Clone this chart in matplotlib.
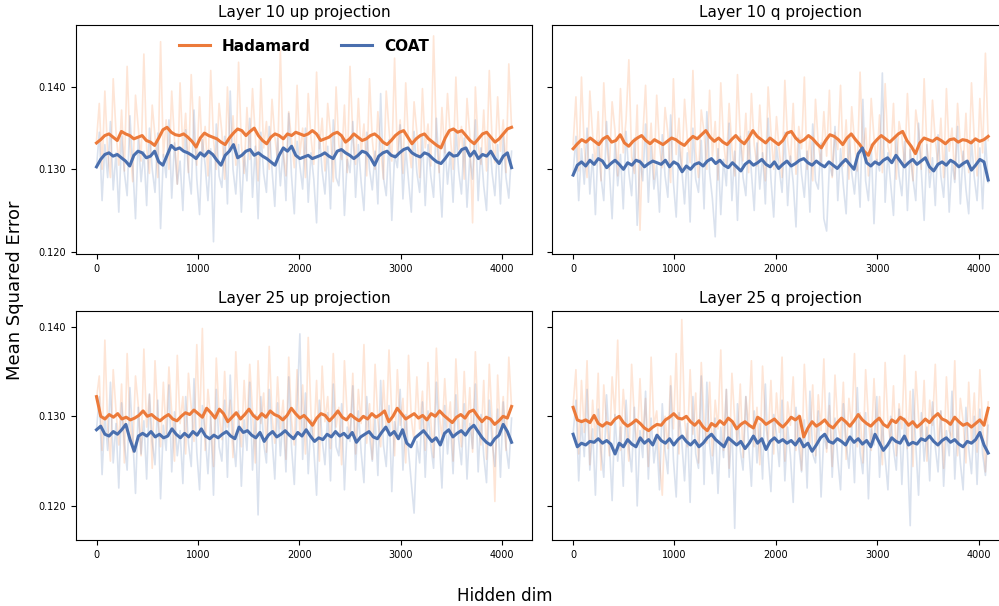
import numpy as np
import matplotlib
matplotlib.use('Agg')
import matplotlib.pyplot as plt
from matplotlib.ticker import MultipleLocator, FormatStrFormatter

# colours
had_color = '#ec7a3a'
coat_color = '#4a6fae'

n_dims = 4096
titles = ['Layer 10 up projection', 'Layer 10 q projection',
          'Layer 25 up projection', 'Layer 25 q projection']

# all values below are MSE x 1e-4
# ---- Layer 10 up ----
had_raw_10up = [
    1335,1380,1300,1395,1320,1290,1410,1345,1305,1372,1298,1425,1330,1285,1390,1350,1310,1440,1325,1295,
    1378,1340,1290,1455,1315,1360,1300,1395,1335,1282,1405,1322,1368,1296,1415,1340,1305,1388,1318,1352,
    1292,1420,1336,1300,1380,1345,1288,1400,1322,1365,1305,1430,1330,1295,1375,1312,1398,1340,1286,1410,
    1326,1358,1300,1385,1340,1310,1445,1320,1292,1370,1335,1302,1402,1318,1350,1290,1392,1338,1306,1418,
    1325,1362,1298,1380,1344,1285,1400,1330,1312,1378,1296,1425,1342,1306,1386,1320,1355,1292,1410,1336,
    1300,1370,1325,1288,1395,1348,1310,1435,1318,1360,1295,1405,1332,1302,1382,1345,1290,1398,1326,1355,
    1304,1462,1338,1296,1375,1320,1392,1340,1300,1412,1324,1352,1288,1386,1342,1235,1400,1330,1306,1372,
    1298,1420,1336,1308,1388,1322,1360,1296,1428,1350]
coat_raw_10up = [
    1302,1345,1262,1330,1290,1358,1275,1320,1248,1340,1296,1268,1365,1305,1240,1338,1285,1322,1256,1350,
    1300,1272,1344,1228,1318,1290,1360,1265,1332,1282,1310,1250,1348,1298,1270,1372,1288,1245,1336,1305,
    1262,1325,1212,1355,1292,1278,1340,1258,1395,1300,1270,1330,1248,1318,1286,1362,1266,1328,1240,1345,
    1295,1272,1352,1300,1255,1338,1280,1325,1262,1368,1292,1246,1334,1304,1276,1350,1260,1320,1288,1235,
    1342,1298,1270,1328,1252,1360,1290,1280,1338,1244,1312,1296,1358,1266,1330,1284,1250,1345,1300,1275,
    1322,1258,1392,1290,1268,1336,1238,1318,1302,1354,1264,1326,1286,1248,1346,1296,1272,1340,1256,1330,
    1292,1266,1362,1300,1242,1335,1282,1320,1260,1348,1298,1270,1338,1254,1315,1288,1360,1262,1326,1280,
    1250,1342,1296,1268,1330,1258,1340,1290,1265,1322]
had_smooth_10up = [
    1332,1336,1341,1343,1339,1335,1346,1343,1341,1337,1339,1341,1335,1333,1329,1338,1348,1351,1345,1342,
    1341,1343,1339,1334,1327,1338,1344,1341,1339,1337,1333,1330,1338,1344,1349,1347,1341,1346,1350,1341,
    1335,1331,1339,1343,1341,1337,1343,1341,1345,1343,1341,1343,1347,1343,1335,1337,1339,1343,1345,1341,
    1333,1337,1343,1339,1335,1337,1341,1343,1339,1333,1330,1335,1341,1345,1347,1339,1331,1337,1341,1343,
    1337,1333,1329,1326,1338,1347,1349,1345,1347,1341,1335,1331,1337,1343,1345,1339,1333,1337,1343,1349,1351]
coat_smooth_10up = [
    1303,1312,1318,1320,1316,1318,1314,1310,1304,1317,1322,1320,1314,1316,1322,1309,1305,1317,1329,1324,
    1326,1322,1320,1317,1313,1320,1316,1322,1318,1311,1305,1317,1322,1330,1314,1317,1322,1324,1317,1320,
    1316,1313,1309,1305,1317,1326,1322,1328,1317,1313,1315,1317,1313,1315,1317,1320,1316,1313,1322,1324,
    1320,1317,1313,1317,1322,1320,1314,1305,1316,1320,1322,1317,1315,1320,1324,1326,1320,1317,1315,1320,
    1318,1313,1309,1307,1313,1320,1316,1317,1324,1326,1316,1322,1313,1318,1316,1322,1313,1307,1316,1320,1302]

# ---- Layer 10 q ----
had_raw_10q = [
    1330,1388,1298,1412,1326,1290,1395,1342,1305,1370,1286,1405,1332,1300,1382,1348,1292,1398,1320,1360,
    1433,1315,1295,1378,1226,1340,1402,1306,1356,1288,1390,1328,1302,1375,1344,1284,1410,1318,1362,1298,
    1385,1336,1308,1420,1322,1290,1372,1345,1300,1396,1316,1358,1287,1405,1334,1302,1380,1325,1292,1415,
    1340,1310,1368,1296,1392,1330,1304,1378,1318,1286,1400,1346,1300,1364,1322,1290,1408,1335,1306,1380,
    1294,1352,1325,1412,1300,1340,1286,1385,1330,1308,1370,1316,1396,1290,1345,1324,1402,1304,1360,1288,
    1376,1334,1298,1418,1320,1350,1292,1386,1338,1306,1366,1296,1404,1328,1312,1380,1288,1358,1340,1302,
    1392,1318,1286,1372,1346,1300,1410,1326,1296,1384,1335,1306,1362,1290,1398,1322,1350,1288,1380,1330,
    1304,1368,1296,1405,1336,1292,1386,1320,1441,1335]
coat_raw_10q = [
    1295,1340,1262,1325,1282,1350,1270,1318,1245,1335,1290,1262,1358,1300,1240,1332,1280,1318,1252,1346,
    1296,1268,1338,1232,1312,1286,1355,1260,1328,1276,1305,1248,1342,1292,1266,1366,1284,1242,1330,1300,
    1258,1320,1236,1350,1288,1272,1335,1252,1370,1296,1264,1218,1325,1245,1312,1280,1356,1262,1322,1238,
    1340,1290,1268,1346,1296,1250,1332,1276,1320,1258,1362,1288,1242,1328,1300,1272,1345,1256,1316,1284,
    1230,1338,1294,1266,1322,1248,1355,1286,1276,1332,1240,1225,1306,1292,1352,1262,1325,1280,1246,1340,
    1296,1270,1316,1254,1385,1286,1262,1330,1234,1312,1298,1417,1260,1320,1282,1244,1340,1292,1268,1334,
    1250,1324,1288,1262,1356,1296,1238,1330,1278,1314,1256,1342,1292,1266,1332,1248,1310,1284,1352,1258,
    1322,1276,1246,1336,1290,1262,1326,1252,1338,1284]
had_smooth_10q = [
    1325,1331,1336,1333,1338,1334,1330,1337,1340,1333,1335,1342,1332,1328,1334,1338,1341,1335,1331,1336,
    1333,1330,1334,1338,1336,1332,1329,1335,1340,1337,1342,1347,1339,1334,1338,1333,1330,1336,1341,1335,
    1331,1338,1347,1340,1336,1332,1338,1334,1330,1335,1344,1346,1338,1333,1336,1341,1337,1331,1326,1335,
    1342,1340,1336,1330,1338,1343,1336,1330,1322,1317,1330,1336,1341,1337,1333,1338,1343,1346,1335,1328,
    1319,1332,1338,1336,1334,1338,1335,1331,1336,1337,1333,1336,1335,1332,1337,1334,1336,1340]
coat_smooth_10q = [
    1293,1305,1309,1304,1311,1306,1313,1310,1302,1307,1311,1306,1300,1308,1305,1311,1309,1303,1307,1310,
    1308,1306,1311,1303,1309,1306,1297,1304,1300,1306,1308,1304,1310,1313,1307,1311,1305,1302,1308,1303,
    1298,1306,1310,1305,1308,1312,1306,1303,1309,1301,1306,1310,1304,1307,1311,1313,1308,1305,1310,1306,
    1303,1309,1305,1301,1307,1312,1306,1300,1319,1326,1308,1304,1309,1306,1311,1314,1308,1317,1310,1303,
    1308,1312,1306,1310,1314,1303,1298,1306,1309,1305,1311,1308,1303,1307,1310,1299,1305,1312,1309,1287]

# ---- Layer 25 up ----
had_raw_25up = [
    1320,1345,1262,1385,1290,1250,1352,1306,1268,1336,1248,1370,1295,1260,1345,1312,1256,1375,1288,1324,
    1242,1362,1300,1266,1338,1280,1355,1304,1250,1368,1292,1322,1258,1348,1310,1272,1380,1286,1398,1262,
    1330,1296,1244,1365,1302,1274,1350,1288,1318,1254,1372,1298,1266,1340,1284,1358,1306,1248,1362,1292,
    1326,1260,1378,1300,1270,1344,1286,1318,1252,1366,1296,1268,1352,1280,1335,1258,1388,1302,1274,1340,
    1250,1356,1294,1322,1264,1370,1288,1310,1246,1362,1300,1276,1348,1258,1330,1292,1380,1270,1314,1252,
    1358,1296,1266,1340,1284,1374,1302,1256,1352,1290,1320,1248,1368,1298,1272,1344,1286,1328,1262,1360,
    1294,1254,1376,1302,1276,1342,1288,1316,1250,1364,1298,1266,1350,1282,1332,1260,1372,1294,1268,1340,
    1252,1358,1296,1205,1346,1280,1322,1262,1366,1310]
coat_raw_25up = [
    1285,1322,1235,1300,1262,1338,1248,1292,1220,1315,1270,1240,1332,1278,1214,1310,1258,1295,1230,1325,
    1272,1246,1318,1208,1290,1262,1335,1238,1305,1256,1284,1225,1322,1270,1244,1342,1260,1218,1312,1280,
    1236,1300,1212,1330,1266,1250,1318,1232,1346,1276,1244,1306,1222,1296,1262,1338,1240,1302,1190,1322,
    1270,1248,1330,1276,1230,1315,1256,1300,1238,1344,1266,1224,1310,1392,1252,1326,1236,1296,1264,1212,
    1318,1274,1246,1304,1228,1336,1266,1256,1314,1218,1288,1272,1334,1240,1306,1260,1226,1322,1278,1250,
    1298,1234,1340,1268,1244,1312,1216,1294,1276,1330,1240,1302,1262,1226,1192,1272,1248,1316,1232,1306,
    1268,1242,1338,1276,1220,1312,1258,1296,1236,1324,1274,1246,1314,1230,1292,1264,1336,1238,1302,1256,
    1226,1318,1272,1244,1308,1232,1316,1266,1242,1298]
had_smooth_25up = [
    1322,1300,1297,1302,1299,1303,1297,1299,1296,1298,1301,1306,1300,1302,1298,1295,1299,1302,1297,1295,
    1300,1304,1302,1307,1303,1299,1309,1304,1298,1308,1303,1294,1299,1304,1297,1302,1308,1301,1297,1303,
    1299,1306,1302,1300,1296,1301,1309,1303,1298,1301,1296,1290,1298,1303,1301,1295,1300,1306,1299,1296,
    1302,1298,1295,1300,1297,1303,1299,1302,1306,1294,1300,1309,1303,1297,1300,1303,1298,1301,1296,1303,
    1300,1306,1301,1297,1293,1299,1302,1298,1305,1307,1300,1294,1299,1297,1291,1295,1300,1298,1311]
coat_smooth_25up = [
    1285,1289,1280,1278,1283,1280,1285,1291,1274,1261,1278,1281,1278,1283,1277,1280,1276,1278,1286,1280,
    1276,1281,1277,1283,1279,1286,1278,1275,1279,1276,1280,1283,1278,1275,1288,1282,1284,1279,1276,1282,
    1272,1279,1283,1277,1280,1284,1279,1275,1282,1278,1285,1278,1272,1276,1274,1280,1277,1283,1278,1281,
    1276,1282,1271,1277,1280,1283,1277,1275,1282,1288,1279,1283,1275,1285,1270,1266,1276,1280,1284,1278,
    1272,1276,1268,1281,1285,1277,1281,1284,1279,1286,1290,1283,1276,1271,1268,1275,1279,1291,1283,1271]

# ---- Layer 25 q ----
had_raw_25q = [
    1312,1352,1258,1340,1282,1362,1246,1318,1270,1348,1240,1335,1292,1256,1344,1300,1385,1262,1330,1288,
    1250,1358,1296,1268,1342,1274,1320,1244,1366,1290,1306,1252,1212,1300,1264,1345,1286,1370,1258,1408,
    1296,1266,1352,1280,1326,1248,1360,1294,1270,1338,1256,1318,1286,1374,1262,1330,1242,1348,1296,1270,
    1336,1254,1322,1288,1362,1266,1310,1246,1356,1292,1272,1340,1258,1326,1282,1366,1250,1316,1290,1344,
    1262,1302,1240,1358,1296,1270,1335,1256,1324,1284,1364,1260,1312,1244,1346,1290,1274,1338,1252,1320,
    1288,1370,1266,1304,1248,1352,1296,1262,1342,1278,1322,1246,1360,1292,1270,1334,1256,1314,1286,1368,
    1264,1328,1244,1350,1298,1272,1340,1250,1318,1290,1358,1266,1306,1242,1344,1284,1276,1362,1256,1320,
    1294,1248,1338,1272,1326,1260,1352,1290,1238,1316]
coat_raw_25q = [
    1280,1318,1228,1296,1255,1330,1240,1286,1212,1308,1262,1232,1324,1270,1206,1302,1250,1288,1222,1318,
    1266,1238,1310,1200,1284,1254,1328,1230,1298,1248,1276,1218,1314,1262,1236,1334,1252,1210,1304,1272,
    1228,1292,1204,1322,1258,1242,1345,1224,1338,1268,1236,1298,1214,1288,1254,1330,1232,1294,1175,1314,
    1262,1240,1322,1268,1222,1306,1248,1292,1230,1336,1258,1216,1302,1280,1244,1318,1228,1288,1256,1204,
    1310,1266,1238,1296,1220,1328,1258,1248,1306,1210,1280,1264,1326,1232,1298,1252,1218,1314,1270,1242,
    1290,1226,1332,1260,1236,1304,1208,1286,1268,1322,1232,1294,1254,1218,1300,1264,1240,1308,1224,1298,
    1260,1178,1330,1268,1212,1304,1250,1288,1228,1316,1266,1238,1306,1222,1284,1256,1328,1230,1294,1248,
    1218,1310,1264,1236,1300,1224,1308,1258,1234,1290]
had_smooth_25q = [
    1310,1296,1294,1296,1293,1301,1292,1289,1293,1291,1297,1300,1293,1289,1292,1296,1292,1287,1284,1288,
    1291,1290,1296,1299,1303,1298,1297,1300,1294,1290,1295,1288,1284,1292,1289,1295,1291,1298,1294,1286,
    1291,1294,1290,1287,1299,1296,1291,1294,1297,1292,1288,1293,1299,1296,1300,1277,1287,1294,1289,1292,
    1296,1290,1287,1293,1298,1294,1289,1295,1302,1296,1292,1289,1294,1298,1291,1288,1296,1293,1299,1296,
    1290,1294,1288,1292,1297,1293,1299,1303,1297,1295,1291,1299,1294,1290,1292,1288,1292,1296,1290,1309]
coat_smooth_25q = [
    1280,1266,1270,1268,1272,1271,1275,1270,1273,1269,1258,1270,1266,1274,1269,1266,1276,1270,1274,1268,
    1279,1273,1270,1275,1268,1274,1278,1272,1268,1273,1266,1270,1276,1280,1274,1270,1266,1276,1272,1268,
    1272,1264,1270,1278,1270,1275,1263,1272,1276,1271,1274,1270,1273,1268,1275,1266,1270,1261,1268,1276,
    1280,1272,1270,1275,1272,1268,1277,1271,1275,1269,1273,1266,1280,1271,1262,1268,1276,1272,1270,1278,
    1268,1271,1269,1275,1273,1278,1272,1268,1273,1276,1271,1274,1269,1266,1272,1270,1274,1282,1268,1259]

panels = [
    (had_raw_10up, coat_raw_10up, had_smooth_10up, coat_smooth_10up),
    (had_raw_10q, coat_raw_10q, had_smooth_10q, coat_smooth_10q),
    (had_raw_25up, coat_raw_25up, had_smooth_25up, coat_smooth_25up),
    (had_raw_25q, coat_raw_25q, had_smooth_25q, coat_smooth_25q),
]
row_ylims = [(0.11968, 0.14753), (0.1162, 0.14175)]

fig = plt.figure(figsize=(9.99, 6.06), dpi=100)
rects = [[0.0758, 0.5804, 0.4571, 0.3784], [0.5529, 0.5804, 0.4571, 0.3784],
         [0.0758, 0.1089, 0.4571, 0.3779], [0.5529, 0.1089, 0.4571, 0.3779]]

axes = []
for i, rect in enumerate(rects):
    ax = fig.add_axes(rect)
    axes.append(ax)
    had_raw, coat_raw, had_sm, coat_sm = [np.array(s) / 1e4 for s in panels[i]]
    ax.plot(np.linspace(0, n_dims - 1, len(had_raw)), had_raw, color='#fb8a45', alpha=0.22, lw=1.2)
    ax.plot(np.linspace(0, n_dims - 1, len(coat_raw)), coat_raw, color=coat_color, alpha=0.2, lw=1.2)
    ax.plot(np.linspace(0, n_dims - 1, len(had_sm)), had_sm, color=had_color, lw=2.2,
            label='Hadamard')
    ax.plot(np.linspace(0, n_dims - 1, len(coat_sm)), coat_sm, color=coat_color, lw=2.2,
            label='COAT')
    ax.set_title(titles[i], fontsize=11)
    ax.set_xlim(-205, 4300)
    ax.set_ylim(row_ylims[i // 2])
    ax.yaxis.set_major_locator(MultipleLocator(0.01))
    ax.yaxis.set_major_formatter(FormatStrFormatter('%.3f'))
    ax.xaxis.set_major_locator(MultipleLocator(1000))
    ax.tick_params(labelsize=7)
    if i % 2 == 1:
        ax.tick_params(labelleft=False)

axes[0].legend(loc='upper center', ncol=2, frameon=False,
               prop={'weight': 'bold', 'size': 11})

fig.text(0.015, 0.5215, 'Mean Squared Error', rotation=90, ha='center', va='center', fontsize=13)
fig.text(0.5055, 0.0165, 'Hidden dim', ha='center', va='center', fontsize=12)

fig.savefig('out.png', dpi=100)
